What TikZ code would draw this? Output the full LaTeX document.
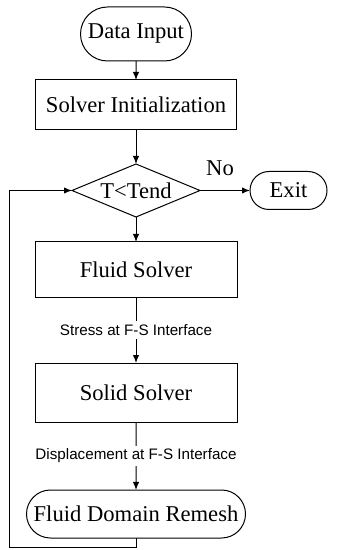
\documentclass[tikz,border=0pt]{standalone}
\usepackage{fontspec}
\setmainfont{Liberation Serif}
\setsansfont{Liberation Sans}
\usetikzlibrary{positioning, arrows.meta, shapes.geometric, shapes.misc}

\begin{document}
\begin{tikzpicture}[
      % 処理ブロック
      block/.style={rectangle, draw, line width=0.5pt, align=center, inner sep=2pt, outer sep=0pt},
      % 開始・終了端子
      terminal/.style={rounded rectangle, draw, line width=0.5pt, align=center, inner sep=2pt, outer sep=0pt},
      % 判定
      decision/.style={diamond, draw, line width=0.5pt, aspect=2.4, inner sep=0pt, outer sep=0pt,
        minimum width=64pt, minimum height=26.5pt},
      % 矢印
      line/.style={draw, line width=0.5pt, -{Latex[length=4pt, width=3.2pt]}},
      % 矢印上のデータ名
      tag/.style={fill=white, inner sep=1.5pt, font=\fontsize{7.6}{9}\sffamily\selectfont},
      font=\fontsize{11.3}{13}\selectfont
    ]

    \useasboundingbox (0,0) rectangle (168.5pt,-275pt);

    % --- 縦の流れ ---
    \node [terminal, minimum width=59.5pt, minimum height=27pt] (input) at (68pt,-17pt) {Data Input};
    \node [block, below=9.5pt of input, minimum width=100.5pt, minimum height=25pt] (init) {Solver Initialization};
    \node [decision, below=17pt of init] (check) {T<Tend};
    \node [block, below=12.5pt of check, minimum width=101pt, minimum height=27.5pt] (fluid) {Fluid Solver};
    \node [block, below=33pt of fluid, minimum width=101pt, minimum height=29.5pt] (solid) {Solid Solver};
    \node [terminal, below=34pt of solid, minimum width=113.5pt, minimum height=24pt] (remesh) {Fluid Domain Remesh};

    % --- 右側：終了 ---
    \node [terminal, right=25pt of check, minimum width=42.5pt, minimum height=19pt] (exit) {Exit};

    % --- 矢印 ---
    \draw [line] (input) -- (init);
    \draw [line] (init) -- (check);
    \draw [line] (check) -- node[above=4pt, pos=0.4] {No} (exit);
    \draw [line] (check) -- (fluid);
    \draw [line] (fluid) -- node[tag] {Stress at F-S Interface} (solid);
    \draw [line] (solid) -- node[tag] {Displacement at F-S Interface} (remesh);

    % ループ：再メッシュ後に判定へ戻る
    \draw [line] (remesh.south) -- ++(0,-4.5pt) -| ([xshift=-31.5pt]check.west) -- (check.west);

    \end{tikzpicture}
\end{document}
